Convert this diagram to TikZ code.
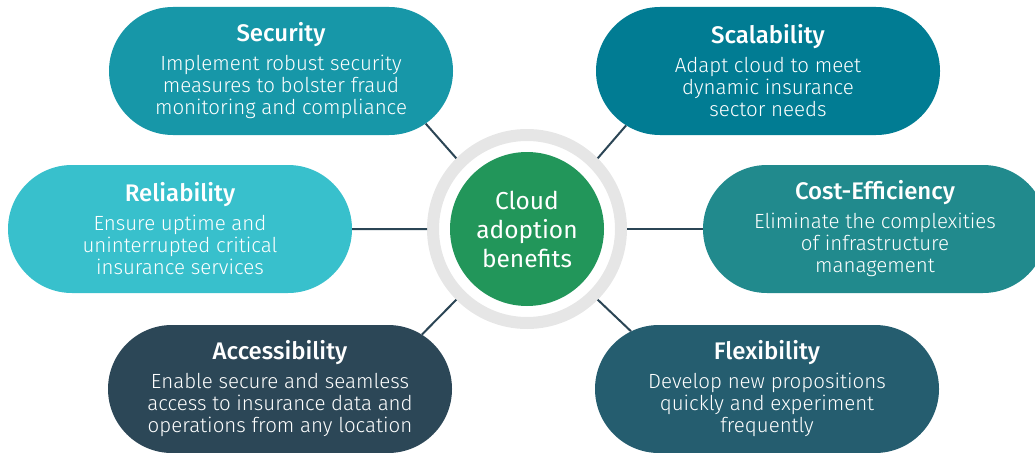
\documentclass[tikz,border=0pt]{standalone}
\usepackage{fontspec}
\setmainfont{Fira Sans}[UprightFont=* Light, BoldFont=* Medium]
\newfontfamily\cloudfont{Fira Sans}
\usetikzlibrary{shapes.misc}
\definecolor{secblue}{HTML}{1797A8}
\definecolor{scalblue}{HTML}{017C93}
\definecolor{relblue}{HTML}{38C0CC}
\definecolor{costteal}{HTML}{218A8D}
\definecolor{accdark}{HTML}{2C4757}
\definecolor{flexdark}{HTML}{255D6F}
\definecolor{cloudgreen}{HTML}{22965A}
\definecolor{ringgray}{HTML}{E6E6E6}
\definecolor{linkdark}{HTML}{2B4555}
\newcommand{\pilltitle}[1]{{\bfseries\fontsize{24}{26}\selectfont #1}\\[7pt]}

\begin{document}
\begin{tikzpicture}[x=1pt,y=-1pt,
    pill/.style={rounded rectangle, minimum width=344, minimum height=128,
      inner sep=0pt, text=white, align=center, font=\fontsize{20.5}{22}\selectfont},
    link/.style={draw=linkdark, line width=2pt}]
  \useasboundingbox (0,0) rectangle (1035,452);
  \clip (0,0) rectangle (1035,452);
  % centre
  \node[circle, draw=ringgray, line width=12pt, minimum size=188pt, inner sep=0pt] (ring) at (527,229) {};
  \node[circle, fill=cloudgreen, minimum size=154pt, inner sep=0pt, text=white, align=center,
    font=\cloudfont\fontsize{24.5}{29}\selectfont] (cloud) at (ring) {Cloud\\adoption\\benefits};
  % benefits
  \node[pill, fill=secblue] (sec) at (281,71) {\pilltitle{Security}Implement robust security\\measures to bolster fraud\\monitoring and compliance};
  \node[pill, fill=scalblue] (scal) at (768,71) {\pilltitle{Scalability}Adapt cloud to meet\\dynamic insurance\\sector needs};
  \node[pill, fill=relblue] (rel) at (180,229) {\pilltitle{Reliability}Ensure uptime and\\uninterrupted critical\\insurance services};
  \node[pill, fill=costteal] (cost) at (875,229) {\pilltitle{Cost-Efficiency}Eliminate the complexities\\of infrastructure\\management};
  \node[pill, fill=accdark] (acc) at (280,389) {\pilltitle{Accessibility}Enable secure and seamless\\access to insurance data and\\operations from any location};
  \node[pill, fill=flexdark] (flex) at (767,389) {\pilltitle{Flexibility}Develop new propositions\\quickly and experiment\\frequently};
  % links
  \draw[link] (ring.135) -- (sec.-20);
  \draw[link] (ring.45) -- (scal.201);
  \draw[link] (ring.180) -- (rel.0);
  \draw[link] (ring.0) -- (cost.180);
  \draw[link] (ring.-135) -- (acc.21);
  \draw[link] (ring.-45) -- (flex.157);
\end{tikzpicture}
\end{document}
